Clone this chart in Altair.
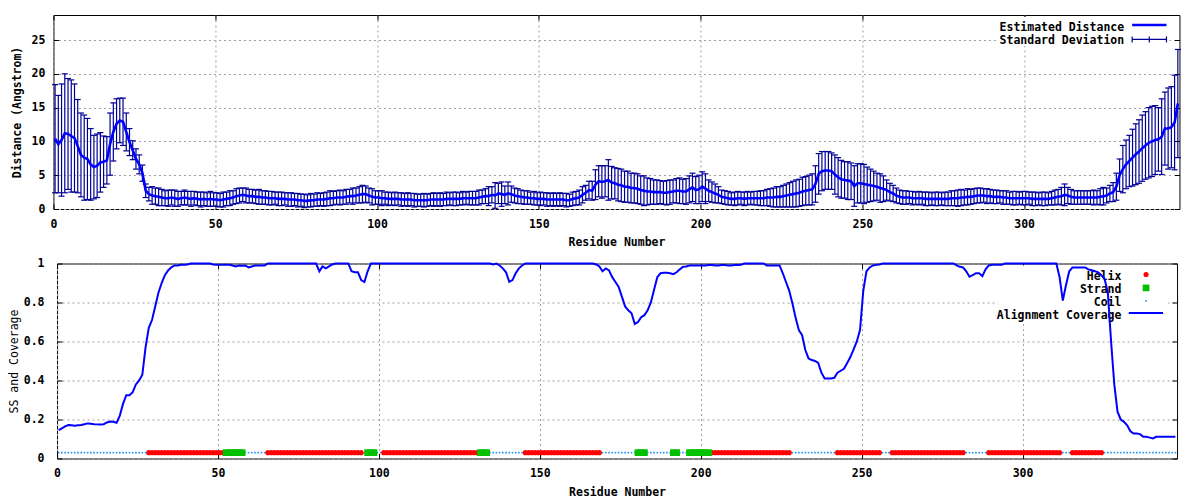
import altair as alt
import numpy as np
import pandas as pd

# ---------------- data ----------------
distance = [
    10.4, 9.6, 10.2, 11.2, 11.1, 10.8, 10.5, 9.3, 8.0, 7.6,
    7.4, 6.6, 6.2, 6.4, 6.9, 7.0, 7.2, 9.6, 11.4, 12.6,
    13.1, 12.9, 11.4, 9.9, 8.7, 7.4, 6.6, 5.3, 2.7, 2.2,
    2.0, 1.9, 1.8, 1.7, 1.6, 1.6, 1.7, 1.6, 1.5, 1.6,
    1.7, 1.6, 1.5, 1.6, 1.5, 1.4, 1.5, 1.4, 1.5, 1.4,
    1.4, 1.3, 1.4, 1.5, 1.6, 1.7, 1.9, 2.0, 2.1, 2.0,
    1.9, 1.9, 1.8, 1.8, 1.7, 1.7, 1.6, 1.6, 1.6, 1.5,
    1.5, 1.5, 1.4, 1.4, 1.4, 1.3, 1.3, 1.2, 1.2, 1.3,
    1.3, 1.4, 1.4, 1.4, 1.5, 1.6, 1.6, 1.7, 1.7, 1.7,
    1.8, 1.9, 1.9, 2.0, 2.1, 2.2, 2.2, 2.0, 1.8, 1.7,
    1.7, 1.6, 1.6, 1.5, 1.5, 1.5, 1.5, 1.4, 1.4, 1.4,
    1.4, 1.3, 1.3, 1.3, 1.3, 1.3, 1.4, 1.4, 1.4, 1.4,
    1.4, 1.5, 1.5, 1.5, 1.5, 1.5, 1.6, 1.6, 1.6, 1.6,
    1.6, 1.7, 1.8, 1.9, 1.9, 2.1, 2.0, 2.3, 2.2, 2.1,
    2.3, 2.2, 2.0, 1.9, 1.8, 1.7, 1.7, 1.6, 1.6, 1.5,
    1.5, 1.5, 1.4, 1.4, 1.4, 1.4, 1.4, 1.4, 1.3, 1.3,
    1.5, 1.6, 1.7, 2.1, 2.4, 2.8, 2.7, 3.6, 4.1, 4.0,
    4.1, 4.3, 3.9, 3.8, 3.6, 3.5, 3.3, 3.3, 3.1, 3.1,
    3.0, 2.8, 2.7, 2.6, 2.6, 2.5, 2.5, 2.5, 2.4, 2.4,
    2.5, 2.6, 2.7, 2.7, 2.6, 2.6, 2.9, 3.2, 2.8, 2.9,
    3.3, 3.0, 2.7, 2.5, 2.3, 2.1, 1.8, 1.7, 1.6, 1.5,
    1.5, 1.6, 1.6, 1.5, 1.6, 1.6, 1.6, 1.6, 1.6, 1.6,
    1.7, 1.7, 1.7, 1.8, 1.8, 1.9, 2.0, 2.1, 2.2, 2.3,
    2.4, 2.6, 2.7, 2.8, 2.9, 3.7, 5.2, 5.6, 5.7, 5.7,
    5.6, 5.1, 4.7, 4.4, 4.3, 4.2, 4.1, 3.4, 3.8, 3.8,
    3.7, 3.6, 3.5, 3.4, 3.3, 3.1, 3.0, 2.8, 2.5, 2.3,
    2.0, 1.8, 1.7, 1.7, 1.7, 1.6, 1.6, 1.6, 1.6, 1.5,
    1.5, 1.5, 1.5, 1.5, 1.5, 1.5, 1.5, 1.6, 1.6, 1.6,
    1.7, 1.7, 1.8, 1.8, 1.9, 2.0, 2.0, 2.0, 1.9, 1.9,
    1.8, 1.8, 1.8, 1.7, 1.7, 1.6, 1.6, 1.6, 1.6, 1.6,
    1.6, 1.6, 1.5, 1.5, 1.5, 1.5, 1.5, 1.5, 1.6, 1.7,
    1.8, 1.9, 2.1, 2.0, 1.8, 1.7, 1.7, 1.7, 1.7, 1.7,
    1.7, 1.7, 1.7, 1.8, 1.9, 2.0, 2.3, 2.5, 3.3, 5.0,
    5.9, 6.6, 7.1, 7.6, 8.1, 8.5, 9.0, 9.4, 9.8, 10.0,
    10.2, 10.3, 10.7, 11.9, 11.9, 12.1, 12.8, 15.6,
]

std_dev = [
    8.0, 7.2, 8.3, 8.8, 8.2, 8.3, 8.0, 6.9, 6.2, 6.3,
    6.0, 5.3, 4.7, 4.7, 4.4, 3.8, 3.5, 4.6, 4.3, 3.7,
    3.3, 3.5, 2.8, 2.0, 1.4, 1.5, 1.4, 1.2, 1.0, 1.0,
    1.3, 1.2, 1.3, 1.2, 1.1, 1.2, 1.1, 1.2, 1.1, 1.0,
    1.1, 1.0, 1.1, 1.0, 1.0, 1.1, 1.0, 1.0, 1.1, 1.0,
    1.0, 1.0, 1.1, 1.0, 1.1, 1.0, 1.1, 1.1, 1.0, 1.1,
    1.0, 1.0, 1.0, 1.1, 1.0, 1.0, 1.0, 1.0, 0.9, 1.0,
    1.0, 0.9, 1.0, 1.0, 0.9, 1.0, 0.9, 1.0, 0.9, 1.0,
    0.9, 1.0, 0.9, 1.0, 1.0, 1.1, 1.0, 1.0, 1.1, 1.0,
    1.1, 1.0, 1.2, 1.1, 1.2, 1.3, 1.2, 1.1, 1.2, 1.0,
    1.0, 1.1, 0.9, 1.0, 0.9, 1.0, 0.9, 1.0, 0.9, 1.0,
    0.9, 1.0, 0.9, 0.9, 1.0, 0.9, 0.9, 1.0, 0.9, 1.0,
    0.9, 1.0, 0.9, 1.0, 1.0, 0.9, 1.0, 0.9, 1.0, 1.0,
    1.0, 1.1, 1.0, 1.1, 1.4, 1.2, 1.9, 1.5, 1.8, 1.3,
    1.7, 1.2, 1.1, 1.1, 1.0, 1.0, 1.0, 0.9, 1.0, 0.9,
    1.0, 0.9, 1.0, 0.9, 1.0, 0.9, 1.0, 0.9, 1.0, 0.9,
    1.0, 1.0, 1.1, 1.2, 1.1, 1.3, 1.4, 2.2, 2.3, 2.4,
    2.3, 3.0, 2.4, 2.3, 2.4, 2.4, 2.3, 2.3, 2.2, 2.2,
    2.2, 2.1, 2.2, 2.0, 1.9, 1.8, 1.8, 1.7, 1.7, 1.8,
    1.8, 1.7, 1.8, 1.9, 1.8, 1.9, 2.0, 2.1, 2.0, 2.1,
    2.2, 2.2, 1.6, 1.5, 1.4, 1.2, 1.0, 1.0, 1.0, 0.9,
    1.0, 1.0, 0.9, 1.0, 1.0, 0.9, 1.0, 1.0, 1.1, 1.1,
    1.2, 1.3, 1.4, 1.5, 1.5, 1.6, 1.7, 1.8, 1.9, 2.0,
    2.0, 2.1, 2.1, 2.2, 2.3, 2.7, 3.0, 2.9, 2.8, 2.8,
    2.7, 2.9, 2.9, 2.8, 2.7, 2.8, 2.7, 3.0, 2.9, 2.9,
    2.9, 2.6, 2.4, 2.2, 2.0, 2.1, 1.9, 1.5, 1.3, 1.2,
    1.1, 1.0, 1.0, 1.0, 0.9, 1.0, 0.9, 1.0, 0.9, 1.0,
    1.0, 0.9, 1.0, 1.0, 0.9, 1.0, 1.0, 1.1, 1.1, 1.2,
    1.2, 1.1, 1.2, 1.1, 1.1, 1.1, 1.1, 1.0, 1.1, 1.0,
    1.0, 1.0, 0.9, 1.0, 1.0, 0.9, 1.0, 1.0, 0.9, 1.0,
    1.0, 0.9, 1.0, 1.0, 0.9, 1.0, 1.0, 0.9, 1.0, 1.1,
    1.1, 1.3, 1.6, 1.2, 1.1, 1.0, 1.0, 1.0, 1.0, 1.0,
    1.0, 1.1, 1.0, 1.2, 1.3, 1.1, 1.2, 1.4, 2.0, 2.4,
    3.5, 3.6, 3.8, 4.2, 4.5, 4.7, 4.9, 5.0, 5.2, 5.2,
    5.1, 4.7, 5.6, 5.4, 6.0, 6.0, 7.0, 8.0,
]

coverage = [
    0.145, 0.155, 0.165, 0.172, 0.170, 0.168, 0.170, 0.172, 0.176, 0.180,
    0.178, 0.176, 0.175, 0.174, 0.176, 0.185, 0.190, 0.188, 0.183, 0.220,
    0.280, 0.325, 0.325, 0.340, 0.380, 0.400, 0.430, 0.570, 0.670, 0.710,
    0.780, 0.850, 0.900, 0.940, 0.965, 0.980, 0.990, 0.990, 0.993, 0.993,
    0.995, 1.0, 1.0, 1.0, 1.0, 1.0, 1.0, 1.0, 0.995, 0.993,
    0.993, 0.993, 0.993, 0.993, 0.990, 0.985, 0.990, 0.988, 0.990, 0.980,
    0.985, 0.990, 0.990, 0.990, 0.990, 1.0, 1.0, 1.0, 1.0, 1.0,
    1.0, 1.0, 1.0, 1.0, 1.0, 1.0, 1.0, 1.0, 1.0, 1.0,
    1.0, 0.960, 0.985, 0.975, 0.985, 0.995, 1.0, 1.0, 1.0, 1.0,
    1.0, 0.960, 0.955, 0.955, 0.915, 0.905, 0.960, 1.0, 1.0, 1.0,
    1.0, 1.0, 1.0, 1.0, 1.0, 1.0, 1.0, 1.0, 1.0, 1.0,
    1.0, 1.0, 1.0, 1.0, 1.0, 1.0, 1.0, 1.0, 1.0, 1.0,
    1.0, 1.0, 1.0, 1.0, 1.0, 1.0, 1.0, 1.0, 1.0, 1.0,
    1.0, 1.0, 1.0, 1.0, 1.0, 0.995, 1.0, 0.990, 0.975, 0.955,
    0.906, 0.915, 0.950, 0.975, 0.990, 1.0, 1.0, 1.0, 1.0, 1.0,
    1.0, 1.0, 1.0, 1.0, 1.0, 1.0, 1.0, 1.0, 1.0, 1.0,
    1.0, 1.0, 1.0, 1.0, 1.0, 1.0, 1.0, 0.995, 0.985, 0.960,
    0.975, 0.965, 0.930, 0.905, 0.880, 0.830, 0.780, 0.760, 0.745, 0.690,
    0.700, 0.725, 0.735, 0.760, 0.800, 0.865, 0.930, 0.950, 0.952, 0.952,
    0.950, 0.945, 0.955, 0.970, 0.983, 0.985, 0.990, 0.990, 0.990, 0.990,
    0.990, 0.990, 0.992, 0.992, 0.990, 0.990, 0.992, 0.992, 0.990, 0.990,
    0.992, 0.992, 0.993, 1.0, 1.0, 1.0, 1.0, 1.0, 1.0, 1.0,
    0.990, 0.990, 0.990, 0.990, 0.990, 0.950, 0.905, 0.860, 0.795, 0.720,
    0.658, 0.632, 0.556, 0.513, 0.505, 0.500, 0.490, 0.440, 0.410, 0.410,
    0.410, 0.414, 0.440, 0.450, 0.460, 0.490, 0.520, 0.560, 0.600, 0.660,
    0.860, 0.960, 0.980, 0.990, 0.993, 0.995, 1.0, 1.0, 1.0, 1.0,
    1.0, 1.0, 1.0, 1.0, 1.0, 1.0, 1.0, 1.0, 1.0, 1.0,
    1.0, 1.0, 1.0, 1.0, 1.0, 1.0, 1.0, 1.0, 1.0, 0.990,
    0.983, 0.980, 0.960, 0.932, 0.940, 0.950, 0.950, 0.935, 0.970, 0.990,
    0.993, 0.993, 0.993, 0.993, 1.0, 1.0, 1.0, 1.0, 1.0, 1.0,
    1.0, 1.0, 1.0, 1.0, 1.0, 1.0, 1.0, 1.0, 1.0, 1.0,
    1.0, 0.930, 0.810, 0.890, 0.960, 0.980, 0.980, 0.980, 0.980, 0.980,
    0.969, 0.965, 0.960, 0.955, 0.940, 0.920, 0.850, 0.600, 0.380, 0.240,
    0.200, 0.188, 0.170, 0.140, 0.128, 0.128, 0.125, 0.111, 0.111, 0.107,
    0.103, 0.111, 0.111, 0.111, 0.111, 0.111, 0.111, 0.111,
]

# secondary structure as runs of (type, length), residues 1..348
ss_runs = [
    ("C", 28), ("H", 24), ("E", 6), ("C", 7), ("H", 30), ("C", 1), ("E", 3),
    ("C", 2), ("H", 30), ("E", 3), ("C", 11), ("H", 24), ("C", 11), ("E", 3),
    ("C", 8), ("E", 2), ("C", 3), ("E", 7), ("H", 25), ("C", 14), ("H", 14),
    ("C", 3), ("H", 23), ("C", 7), ("H", 23), ("C", 3), ("H", 10), ("C", 23),
]
ss_level = 0.03

x_ticks = [0, 50, 100, 150, 200, 250, 300]
top_y_ticks = [0, 5, 10, 15, 20, 25]
bottom_y_ticks = [0, 0.2, 0.4, 0.6, 0.8, 1]
top_legend = ["Estimated Distance", "Standard Deviation"]
bottom_legend = ["Helix", "Strand", "Coil", "Alignment Coverage"]
x_title = "Residue Number"
top_y_title = "Distance (Angstrom)"
bottom_y_title = "SS and Coverage"

# ---------------- table ----------------
n = len(distance)
ss = "".join(t * c for t, c in ss_runs)
df = pd.DataFrame({
    "x": np.arange(n) + 0.5,
    "d": distance,
    "s": std_dev,
    "cov": coverage,
    "ss": list(ss),
})
df["lo"] = df["d"] - df["s"]
df["hi"] = df["d"] + df["s"]
df["lvl"] = ss_level

# ---------------- style ----------------
FONT = "DejaVu Sans Mono"
FS = 11.5
TICK = 5
GRID = "#a0a0a0"
EB = "#000096"
BLUE = "#0000ff"
RED = "#ff0000"
GREEN = "#00c000"
COIL = "#1e8cf0"

W1, H1 = 1126, 194
W2, H2 = 1120, 195

xs1 = alt.Scale(domain=[0, 348], nice=False, zero=False)
ys1 = alt.Scale(domain=[0, 28.7], nice=False, zero=False)
xs2 = alt.Scale(domain=[0, 348], nice=False, zero=False)
ys2 = alt.Scale(domain=[0, 1], nice=False, zero=False)


def main_x():
    return alt.Axis(orient="bottom", values=x_ticks, format="d", title=x_title,
                    grid=True, gridColor=GRID, gridDash=[2, 3], gridWidth=1,
                    domain=False, tickSize=TICK, offset=-TICK, tickColor="black",
                    tickWidth=1, labelPadding=9, labelFlush=False,
                    labelFont=FONT, labelFontSize=FS, labelFontWeight="bold",
                    labelColor="black", titleFont=FONT, titleFontSize=FS,
                    titleFontWeight="bold", titleColor="black", titlePadding=7)


def main_y(values, title, pad, tpad, weight):
    return alt.Axis(orient="left", values=values, format="~g", title=title,
                    grid=True, gridColor=GRID, gridDash=[2, 3], gridWidth=1,
                    domain=False, tickSize=TICK, offset=-TICK, tickColor="black",
                    tickWidth=1, labelPadding=pad, labelFlush=False,
                    labelFont=FONT, labelFontSize=FS, labelFontWeight="bold",
                    labelColor="black", titleFont=FONT, titleFontSize=FS,
                    titleFontWeight=weight, titleColor="black", titlePadding=tpad)


def mirror_x():
    return alt.Axis(orient="top", values=x_ticks, labels=False, title=None,
                    grid=False, domain=False, tickSize=TICK, offset=-TICK,
                    tickColor="black", tickWidth=1)


def mirror_y(values):
    return alt.Axis(orient="right", values=values, labels=False, title=None,
                    grid=False, domain=False, tickSize=TICK, offset=-TICK,
                    tickColor="black", tickWidth=1)


one = pd.DataFrame({"k": [0]})


def legend_text(label, x, y):
    return alt.Chart(one).mark_text(
        text=label, align="right", baseline="alphabetic", font=FONT,
        fontSize=FS, fontWeight="bold", color="black"
    ).encode(x=alt.value(x), y=alt.value(y))


def hrule(x1, x2, y, color, w):
    return alt.Chart(one).mark_rule(color=color, strokeWidth=w).encode(
        x=alt.value(x1), x2=alt.value(x2), y=alt.value(y))


def vrule(x, y1, y2, color, w):
    return alt.Chart(one).mark_rule(color=color, strokeWidth=w).encode(
        x=alt.value(x), y=alt.value(y1), y2=alt.value(y2))


def bg(x1, x2, y1, y2):
    return alt.Chart(one).mark_rect(color="white").encode(
        x=alt.value(x1), x2=alt.value(x2), y=alt.value(y1), y2=alt.value(y2))


# ---------------- top panel ----------------
base = alt.Chart(df)
bars = base.mark_rule(color=EB, strokeWidth=1.2).encode(
    x=alt.X("x:Q", scale=xs1, axis=main_x()),
    y=alt.Y("lo:Q", scale=ys1, axis=main_y(top_y_ticks, top_y_title, 8.5, 8.5, "bold")),
    y2="hi:Q",
)
cap_hi = base.mark_tick(orient="horizontal", size=6, thickness=1.2, color=EB, opacity=1).encode(
    x=alt.X("x:Q", scale=xs1, axis=None),
    y=alt.Y("hi:Q", scale=ys1, axis=None),
)
cap_lo = base.mark_tick(orient="horizontal", size=6, thickness=1.2, color=EB, opacity=1).encode(
    x=alt.X("x:Q", scale=xs1, axis=None),
    y=alt.Y("lo:Q", scale=ys1, axis=None),
)
dist_line = base.mark_line(color=BLUE, strokeWidth=2.6).encode(
    x=alt.X("x:Q", scale=xs1, axis=mirror_x()),
    y=alt.Y("d:Q", scale=ys1, axis=mirror_y(top_y_ticks)),
)

tx = 1070.7
top_leg = [
    bg(945, 1116, 2, 31),
    legend_text(top_legend[0], tx, 15.7),
    hrule(1078.7, 1113, 10, BLUE, 2.6),
    legend_text(top_legend[1], tx, 29.0),
    hrule(1078.7, 1113, 24.4, EB, 1.2),
    vrule(1078.7, 21.4, 27.4, EB, 1.2),
    vrule(1113, 21.4, 27.4, EB, 1.2),
    vrule(1095.8, 21.4, 27.4, EB, 1.2),
]

top = alt.layer(*top_leg, bars, cap_hi, cap_lo, dist_line).resolve_axis(
    x="independent", y="independent").properties(width=W1, height=H1)

# ---------------- bottom panel ----------------
coil = base.transform_filter(alt.datum.ss == "C").mark_square(
    size=2.5, color=COIL, opacity=1).encode(
    x=alt.X("x:Q", scale=xs2, axis=mirror_x()),
    y=alt.Y("lvl:Q", scale=ys2, axis=mirror_y(bottom_y_ticks)),
)
helix = base.transform_filter(alt.datum.ss == "H").mark_circle(
    size=26, color=RED, opacity=1).encode(
    x=alt.X("x:Q", scale=xs2, axis=None),
    y=alt.Y("lvl:Q", scale=ys2, axis=None),
)
strand = base.transform_filter(alt.datum.ss == "E").mark_square(
    size=45, color=GREEN, opacity=1).encode(
    x=alt.X("x:Q", scale=xs2, axis=None),
    y=alt.Y("lvl:Q", scale=ys2, axis=None),
)
cov_line = base.mark_line(color=BLUE, strokeWidth=2).encode(
    x=alt.X("x:Q", scale=xs2, axis=main_x()),
    y=alt.Y("cov:Q", scale=ys2, axis=main_y(bottom_y_ticks, bottom_y_title, 13, 3.3, "normal")),
)

bx = 1064.4
sym_x = 1089
bot_leg = [
    bg(940.7, 1111, 2, 57),
    legend_text(bottom_legend[0], bx, 16.0),
    alt.Chart(one).mark_circle(size=26, color=RED, opacity=1).encode(
        x=alt.value(sym_x), y=alt.value(11)),
    legend_text(bottom_legend[1], bx, 29.0),
    alt.Chart(one).mark_square(size=45, color=GREEN, opacity=1).encode(
        x=alt.value(sym_x), y=alt.value(24.4)),
    legend_text(bottom_legend[2], bx, 42.0),
    alt.Chart(one).mark_square(size=2.5, color=COIL, opacity=1).encode(
        x=alt.value(sym_x), y=alt.value(37.4)),
    legend_text(bottom_legend[3], bx, 55.0),
    hrule(1071.7, 1106, 49.4, BLUE, 2),
]

bottom = alt.layer(*bot_leg[:1], coil, helix, strand, *bot_leg[1:], cov_line).resolve_axis(
    x="independent", y="independent").properties(width=W2, height=H2)

chart = alt.vconcat(top, bottom, spacing=7.5, center=True).properties(
    padding={"left": 0, "top": 6, "right": 5, "bottom": 0},
    background="white",
).configure_view(stroke="black", strokeWidth=1)

chart.save("out.html", embed_options={"renderer": "svg", "actions": False})
